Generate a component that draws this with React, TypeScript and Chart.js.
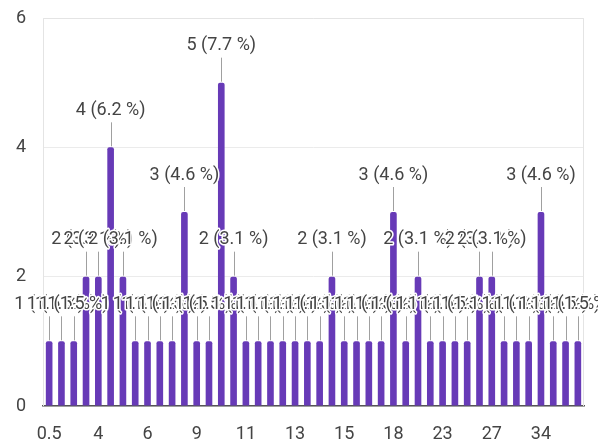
import React, { useEffect, useRef } from "react";
import { Chart, registerables } from "chart.js";

Chart.register(...registerables);

const categories = [
  "0.5", "1", "2", "3", "4", "4.5", "5", "5.5", "6", "7", "7.5", "8",
  "9", "9.5", "10", "10.5", "11", "11.5", "12", "12.5", "13", "13.5", "14", "14.5",
  "15", "16", "16.5", "17", "18", "19", "20", "21", "23", "24", "25", "26",
  "27", "28", "30", "32", "34", "35", "36", "40",
];

const counts = [
  1, 1, 1, 2, 2, 4, 2, 1, 1, 1, 1, 3,
  1, 1, 5, 2, 1, 1, 1, 1, 1, 1, 1, 2,
  1, 1, 1, 1, 3, 1, 2, 1, 1, 1, 1, 2,
  2, 1, 1, 1, 3, 1, 1, 1,
];

const yTicks = [0, 2, 4, 6];

const FONT = "Roboto, 'Noto Sans', sans-serif";

const labelPlugin = {
  id: "barLabels",
  beforeDatasetsDraw(chart: any) {
    const { ctx, chartArea } = chart;
    ctx.save();
    ctx.strokeStyle = "#e4e4e4";
    ctx.lineWidth = 1;
    ctx.beginPath();
    ctx.moveTo(chartArea.left + 0.5, chartArea.bottom);
    ctx.lineTo(chartArea.left + 0.5, chartArea.top + 0.5);
    ctx.lineTo(chartArea.right - 0.5, chartArea.top + 0.5);
    ctx.lineTo(chartArea.right - 0.5, chartArea.bottom);
    ctx.stroke();
    ctx.restore();
  },
  afterDatasetsDraw(chart: any) {
    const { ctx } = chart;
    const meta = chart.getDatasetMeta(0);
    const data = chart.data.datasets[0].data as number[];
    const total = data.reduce((a, b) => a + b, 0);
    ctx.save();
    ctx.strokeStyle = "#a0a0a0";
    ctx.lineWidth = 1;
    meta.data.forEach((el: any) => {
      const x = Math.round(el.x) + 0.5;
      ctx.beginPath();
      ctx.moveTo(x, el.y - 1);
      ctx.lineTo(x, el.y - 25);
      ctx.stroke();
    });
    ctx.font = `18px ${FONT}`;
    ctx.textAlign = "center";
    ctx.textBaseline = "middle";
    ctx.lineJoin = "round";
    meta.data.forEach((el: any, i: number) => {
      const v = data[i];
      const txt = `${v} (${((v / total) * 100).toFixed(1)} %)`;
      const y = el.y - 37;
      ctx.strokeStyle = "#ffffff";
      ctx.lineWidth = 3;
      ctx.strokeText(txt, el.x, y);
      ctx.fillStyle = "#444444";
      ctx.fillText(txt, el.x, y);
    });
    ctx.restore();
  },
};

export default function App() {
  const ref = useRef<HTMLCanvasElement | null>(null);
  useEffect(() => {
    document.body.style.margin = "0";
    if (!ref.current) return;
    const chart = new Chart(ref.current, {
      type: "bar",
      data: {
        labels: categories,
        datasets: [
          {
            data: counts,
            backgroundColor: "#673ab7",
            categoryPercentage: 1,
            barPercentage: 0.54,
            borderRadius: 2,
          },
        ],
      },
      options: {
        animation: false,
        responsive: false,
        layout: { padding: { top: 0, right: 14, left: 0, bottom: 0 } },
        plugins: {
          legend: { display: false },
          tooltip: { enabled: false },
        },
        scales: {
          x: {
            grid: { display: false, drawTicks: false },
            border: { display: true, color: "#555555", width: 1.5 },
            ticks: {
              autoSkip: false,
              maxRotation: 0,
              padding: 18,
              color: "#444444",
              font: { family: FONT, size: 18 },
              callback: (_v: any, i: number) => (i % 4 === 0 ? categories[i] : ""),
            },
            afterFit: (s: any) => {
              s.height = 40;
            },
          },
          y: {
            min: 0,
            max: 6,
            grid: { color: "#ebebeb", drawTicks: false },
            border: { display: false },
            afterBuildTicks: (s: any) => {
              s.ticks = yTicks.map((v) => ({ value: v }));
            },
            ticks: {
              padding: 17,
              color: "#444444",
              font: { family: FONT, size: 18 },
            },
            afterFit: (s: any) => {
              s.width = 43;
              s.paddingTop = 18;
            },
          },
        },
      },
      plugins: [labelPlugin],
    });
    return () => chart.destroy();
  }, []);
  return (
    <div style={{ width: 598, height: 446 }}>
      <canvas ref={ref} width={598} height={446} />
    </div>
  );
}
